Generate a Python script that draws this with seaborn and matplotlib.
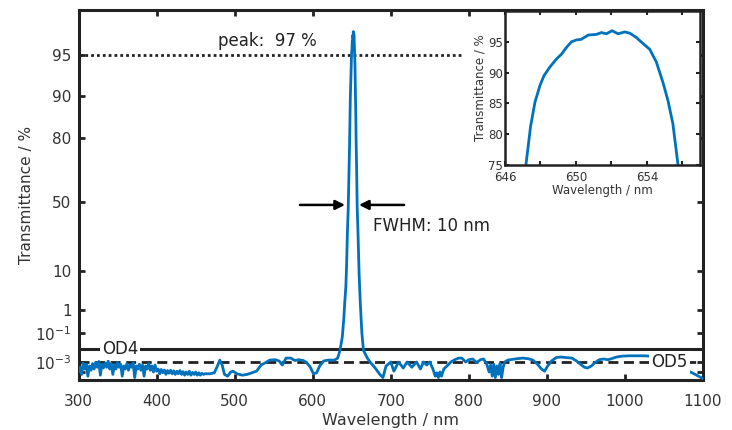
import numpy as np
import pandas as pd
import matplotlib
matplotlib.use("Agg")
import matplotlib.pyplot as plt
import seaborn as sns

# ---------------- data (transmittance in %) ----------------
wl_uv = np.arange(300, 464, 2)
t_uv = [1e-4, 3e-4, 5e-5, 8e-4, 2e-4, 6e-4, 3e-5, 4e-4, 1.5e-4, 7e-4,
        2e-4, 9e-4, 3e-4, 1.1e-3, 4e-5, 6e-4, 2.5e-4, 8e-4, 3e-4, 1.2e-3,
        2e-4, 7e-4, 5e-5, 5e-4, 2e-4, 9e-4, 3e-4, 6e-4, 3e-5, 4e-4,
        2e-4, 7e-4, 1.5e-4, 5e-4, 3e-4, 8e-4, 2e-5, 4e-4, 2e-4, 6e-4,
        1.5e-4, 5e-4, 3e-5, 4e-4, 2e-4, 7e-4, 1.5e-4, 4e-4, 1e-4, 5e-4,
        1.2e-4,
        2e-4, 6e-5, 1.8e-4, 8e-5, 1.6e-4, 5e-5, 1.4e-4, 7e-5, 1.5e-4, 6e-5,
        1.3e-4, 5e-5, 1.2e-4, 6e-5, 1.4e-4, 5e-5, 1.1e-4, 4e-5, 1e-4, 5e-5,
        1.2e-4, 4e-5, 9e-5, 5e-5, 1e-4, 4e-5, 8e-5, 4e-5, 7e-5, 5e-5,
        6e-5]

wl_vis = [468, 474, 478, 481, 484, 487, 491, 495, 498, 503, 510, 516, 522, 528,
          534, 540, 545, 552, 557, 561, 566, 572, 577, 582, 588, 592, 597, 601,
          605, 609, 614, 620, 628]
t_vis = [6e-5, 8e-5, 4e-4, 1.4e-3, 5e-4, 5e-5, 3e-5, 1e-4, 1.2e-4, 6e-5, 4e-5,
         5e-5, 8e-5, 1.2e-4, 5e-4, 9e-4, 1.4e-3, 1.5e-3, 1.2e-3, 5e-4, 2e-3,
         2e-3, 1.3e-3, 1.5e-3, 1.3e-3, 9e-4, 3e-4, 6e-5, 8e-5, 4e-4, 1.2e-3,
         1.4e-3, 1.4e-3]

wl_peak = [632, 635, 638, 640, 641, 642.5, 643.5, 644.5, 645.5, 646.5, 647.0,
           647.18, 647.44, 647.69, 647.97, 648.2, 648.53, 648.9, 649.19, 649.47,
           649.75, 650.03, 650.3, 650.7, 651.16, 651.44, 651.72, 652.04, 652.38,
           652.75, 653.04, 653.41, 653.79, 654.16, 654.54, 654.91, 655.19,
           655.47, 655.76, 656.2, 657, 658, 659.5, 661, 663, 665]
t_peak = [2e-3, 8e-3, 0.06, 0.5, 1.5, 4, 12, 25, 42, 62, 69,
          75, 81.2, 85.2, 87.9, 89.5, 90.9, 92.2, 93.0, 94.1,
          95.0, 95.3, 95.4, 96.1, 96.2, 96.5, 96.3, 96.8, 96.3,
          96.6, 96.4, 95.7, 94.7, 93.8, 91.7, 88.4, 85.5,
          81.7, 75, 66, 45, 25, 8, 1.5, 0.1, 8e-3]

wl_red = [670, 674, 680, 686, 690, 694, 700, 704, 710, 716, 721, 727, 733, 738,
          742, 746, 750, 754, 757, 759, 761, 763, 765, 768, 772, 777, 782, 787,
          791, 796, 800, 805, 810, 815, 819, 823, 826, 828, 830, 832, 834, 836,
          838, 840, 842, 844, 846, 850, 856, 862, 869, 876, 882, 888, 893, 897,
          901, 906, 912, 918, 925, 932, 938, 943, 948, 952, 957, 962, 967, 973,
          978, 983, 989, 996, 1005, 1015, 1025, 1032, 1045, 1060, 1072, 1082,
          1090, 1100]
t_red = [2e-3, 9e-4, 2.5e-4, 5e-5, 2e-5, 4e-4, 1e-3, 1.2e-4, 1e-3, 2.5e-4,
         1e-3, 3e-4, 1e-3, 2e-4, 1e-3, 5e-4, 1e-3, 2e-4, 3e-5, 8e-5,
         2e-5, 1e-4, 3e-5, 2e-4, 4e-4, 1e-3, 1.5e-3, 2e-3, 2e-3, 1e-3,
         1.5e-3, 1.7e-3, 9e-4, 1.5e-3, 1.7e-3, 6e-4, 1e-4, 5e-4, 3e-5, 6e-4,
         2e-5, 4e-4, 5e-5, 7e-4, 2e-5, 3e-4, 1e-3, 1.4e-3, 1.6e-3, 1.8e-3,
         2e-3, 1.8e-3, 1.4e-3, 6e-4, 2e-4, 1.2e-4, 4e-4, 1.2e-3, 2.2e-3, 2.4e-3,
         2.2e-3, 2e-3, 1.2e-3, 6e-4, 3e-4, 2.5e-4, 4e-4, 9e-4, 1.5e-3, 1.7e-3,
         1.5e-3, 1.8e-3, 2.4e-3, 2.8e-3, 3e-3, 3e-3, 3e-3, 2.8e-3, 2.2e-3, 1.5e-3,
         6e-4, 1.2e-4, 5e-5, 1.5e-5]

x_ticks = [300, 400, 500, 600, 700, 800, 900, 1000, 1100]
y_ticks = [1e-4, 1e-3, 1e-1, 1, 10, 50, 80, 90, 95]
y_ticklabels = ["", r"10$^{-3}$", r"10$^{-1}$", "1", "10", "50", "80", "90", "95"]
od4_level, od5_level, peak_level = 1e-2, 1e-3, 95

inset_xticks = [646, 648, 650, 652, 654, 656]
inset_xticklabels = ["646", "", "650", "", "654", ""]
inset_yticks = [75, 80, 85, 90, 95]

df = pd.DataFrame({
    "wl": np.concatenate([wl_uv, wl_vis, wl_peak, wl_red]).astype(float),
    "T": np.concatenate([t_uv, t_vis, t_peak, t_red]).astype(float),
})

# ---------------- custom transmittance scale ----------------
_anch_log = np.log10([1e-12, 1e-5, 1e-4, 1e-3, 1e-2, 1e-1, 1, 10, 50, 80, 90, 95, 97, 98.5, 100])
_anch_pos = -np.array([436, 380, 372, 362, 349, 333, 310, 271, 202, 138, 96, 55, 29, 10, -5], float)


def fwd(v):
    v = np.asarray(v, float)
    return np.interp(np.log10(np.clip(v, 1e-12, None)), _anch_log, _anch_pos)


def inv(u):
    return 10 ** np.interp(np.asarray(u, float), _anch_pos, _anch_log)


# ---------------- figure ----------------
sns.set_theme(style="ticks")
plt.rcParams["font.family"] = ["DejaVu Sans"]
plt.rcParams["mathtext.default"] = "regular"

BLUE = "#0072BD"
DARK = "#222222"

fig = plt.figure(figsize=(7.32, 4.30), dpi=100)
ax = fig.add_axes([78.5 / 732, 50 / 430, 624.5 / 732, 370 / 430])
ax.set_yscale("function", functions=(fwd, inv))

sns.lineplot(data=df, x="wl", y="T", ax=ax, color=BLUE, lw=2.0,
             estimator=None, sort=False, zorder=3)

ax.axhline(od4_level, color=DARK, lw=2.2, zorder=2)
ax.axhline(od5_level, color=DARK, lw=2.0, ls=(0, (3.6, 2.0)), zorder=2)
ax.axhline(peak_level, xmin=0, xmax=0.615, color=DARK, lw=2.0,
           ls=(0, (1, 1.1)), zorder=2)

ax.set_xlim(300, 1100)
ax.set_ylim(1e-5, 98.5)
ax.set_xticks(x_ticks)
ax.set_yticks(y_ticks)
ax.set_yticklabels(y_ticklabels)
ax.tick_params(direction="in", top=True, right=True, length=4, width=2,
               color=DARK, labelsize=11, labelcolor="#333333", pad=5)
ax.tick_params(axis="x", pad=10)
for s in ax.spines.values():
    s.set_linewidth(2.2)
    s.set_color(DARK)
ax.set_xlabel("Wavelength / nm", fontsize=11.5, color="#333333", labelpad=3)
ax.set_ylabel("Transmittance / %", fontsize=11, color="#333333", labelpad=0.5)

box = dict(fc="white", ec="none", pad=1.5)
ax.text(353, od4_level, "OD4", ha="center", va="center", fontsize=12,
        color="#222222", bbox=box, zorder=5)
ax.text(1057, od5_level, "OD5", ha="center", va="center", fontsize=12,
        color="#222222", bbox=box, zorder=5)

ax.text(478.7, 96.1, "peak:  97 %", ha="left", va="center", fontsize=12,
        color="#222222")
ax.text(677.3, 28.6, "FWHM: 10 nm", ha="left", va="center", fontsize=12,
        color="#222222")
arrow = dict(arrowstyle="-|>", color="black", lw=1.8, mutation_scale=14,
             shrinkA=0, shrinkB=0)
ax.annotate("", xy=(641.4, 46.7), xytext=(583.8, 46.7), arrowprops=arrow)
ax.annotate("", xy=(659.3, 46.7), xytext=(717.0, 46.7), arrowprops=arrow)

# ---------------- inset ----------------
axi = fig.add_axes([505 / 732, 265 / 430, 195 / 732, 154 / 430])
axi.set_facecolor("white")
sns.lineplot(data=df, x="wl", y="T", ax=axi, color=BLUE, lw=2.0,
             estimator=None, sort=False)
axi.set_xlim(646, 657)
axi.set_ylim(75, 100)
axi.set_xticks(inset_xticks)
axi.set_xticklabels(inset_xticklabels)
axi.set_yticks(inset_yticks)
axi.tick_params(direction="in", top=True, right=True, length=3, width=1.5,
                color=DARK, labelsize=8.5, labelcolor="#333333", pad=1.5)
axi.tick_params(axis="x", pad=4.5)
for s in axi.spines.values():
    s.set_linewidth(1.8)
    s.set_color(DARK)
axi.set_xlabel("Wavelength / nm", fontsize=8.5, color="#333333", labelpad=0)
axi.set_ylabel("Transmittance / %", fontsize=8.5, color="#333333", labelpad=1)

fig.savefig("out.png", dpi=100)
